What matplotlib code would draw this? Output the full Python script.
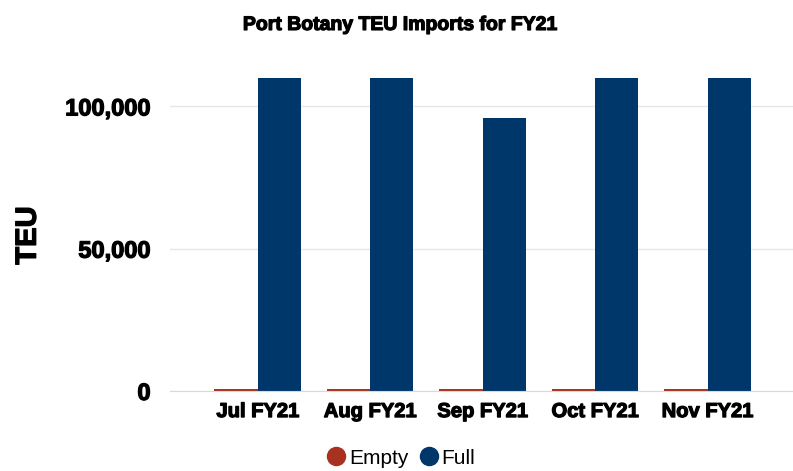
import numpy as np
import matplotlib
matplotlib.use("Agg")
import matplotlib.pyplot as plt
import matplotlib.patheffects as pe
from matplotlib.ticker import FuncFormatter
from matplotlib.lines import Line2D

months = ["Jul FY21", "Aug FY21", "Sep FY21", "Oct FY21", "Nov FY21"]
empty = [700, 700, 700, 700, 700]
full = [111000, 111500, 95800, 112000, 112500]

red = "#A8321F"
blue = "#00376B"

plt.rcParams['font.family'] = ['Liberation Sans', 'DejaVu Sans']
heavy = [pe.withStroke(linewidth=0.9, foreground='black')]

fig = plt.figure(figsize=(7.93, 4.71), dpi=100)
ax = fig.add_axes([0.2144, 0.170, 0.7856, 0.6645])

x = np.arange(len(months))
w = 0.385
ax.bar(x - w/2, empty, w, color=red, label="Empty")
ax.bar(x + w/2, full, w, color=blue, label="Full")

ax.set_xlim(-0.78, 4.76)
ax.set_ylim(0, 110000)
ax.set_yticks([0, 50000, 100000])
ax.yaxis.set_major_formatter(FuncFormatter(lambda v, p: f"{int(v):,}"))
ax.set_xticks(x)
ax.set_xticklabels(months)

for lbl in ax.get_yticklabels():
    lbl.set_fontsize(17)
    lbl.set_fontweight('bold')
    lbl.set_path_effects(heavy)
for lbl in ax.get_xticklabels():
    lbl.set_fontsize(14.5)
    lbl.set_fontweight('bold')
    lbl.set_path_effects(heavy)
ax.tick_params(axis='y', length=0, pad=14)
ax.tick_params(axis='x', length=0, pad=8)

ax.grid(axis='y', color='#E6E6E6', linewidth=1)
ax.set_axisbelow(True)
for s in ['top', 'right', 'left']:
    ax.spines[s].set_visible(False)
ax.spines['bottom'].set_color('#D9D9D9')

fig.text(0.035, 0.50, "TEU", rotation=90, fontsize=21,
         fontweight='bold', ha='center', va='center', path_effects=heavy)
fig.text(0.505, 0.946, "Port Botany TEU Imports for FY21", fontsize=14,
         fontweight='bold', ha='center', va='center', path_effects=heavy)

handles = [
    Line2D([], [], marker='o', linestyle='', markersize=13, color=red),
    Line2D([], [], marker='o', linestyle='', markersize=13, color=blue),
]
fig.legend(handles, ["Empty", "Full"], loc='center', bbox_to_anchor=(0.504, 0.027),
           ncol=2, frameon=False, fontsize=15, handletextpad=0.0,
           columnspacing=0.4, handlelength=1.2)

fig.savefig("out.png", dpi=100)
